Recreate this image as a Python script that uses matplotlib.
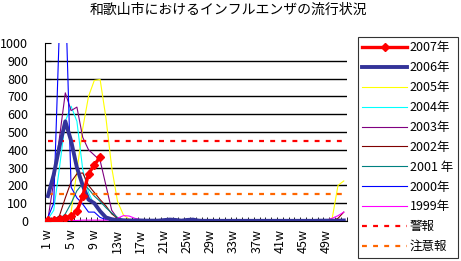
import numpy as np
import matplotlib
matplotlib.use("Agg")
import matplotlib.pyplot as plt

plt.rcParams['font.family'] = ['Noto Sans CJK JP', 'DejaVu Sans']

title = "和歌山市におけるインフルエンザの流行状況"
weeks = list(range(1, 53))
week_labels = ["%d w" % w if w < 10 else "%dw" % w for w in weeks]
week_labels[0] = "1 w"

y2007 = [3, 6, 12, 18, 28, 55, 140, 265, 315, 360]
y2006 = [140, 260, 420, 560, 450, 300, 200, 120, 100, 55, 20, 10, 5, 4, 3, 3,
         3, 2, 2, 2, 5, 8, 6, 2, 6, 8, 2, 1, 1, 1, 1, 1, 1, 1, 1, 1,
         1, 1, 1, 1, 1, 1, 1, 1, 1, 1, 1, 2, 2, 2, 2, 3]
y2005 = [0, 0, 0, 5, 50, 280, 520, 700, 790, 795, 580, 300, 110, 35, 10, 5,
         3, 2, 2, 1, 1, 1, 1, 1, 1, 1, 1, 1, 1, 1, 1, 1, 1, 1, 1, 1,
         1, 1, 1, 1, 1, 1, 1, 1, 1, 1, 1, 2, 3, 15, 200, 225]
y2004 = [10, 60, 300, 560, 645, 560, 290, 160, 90, 45, 15, 5, 3, 2, 2, 1,
         1, 1, 1, 1, 1, 1, 1, 1, 1, 1, 1, 1, 1, 1, 1, 1, 1, 1, 1, 1,
         1, 1, 1, 1, 1, 1, 1, 1, 1, 1, 1, 1, 1, 1, 1, 1]
y2003 = [10, 220, 470, 720, 620, 640, 470, 400, 370, 340, 200, 60, 15, 5, 3, 2,
         2, 1, 1, 1, 1, 1, 1, 1, 1, 1, 1, 1, 1, 1, 1, 1, 1, 1, 1, 1,
         1, 1, 1, 1, 1, 1, 1, 1, 1, 1, 1, 1, 1, 1, 1, 2]
y2002 = [0, 5, 30, 130, 220, 265, 270, 200, 160, 120, 85, 40, 15, 5, 3, 2,
         2, 1, 1, 1, 1, 1, 1, 1, 1, 1, 1, 1, 1, 1, 1, 1, 1, 1, 1, 1,
         1, 1, 1, 1, 1, 1, 1, 1, 1, 1, 1, 1, 0, 0, 15, 50]
y2001 = [0, 2, 10, 40, 100, 170, 210, 180, 140, 110, 75, 45, 20, 8, 3, 2,
         2, 1, 1, 1, 1, 1, 1, 1, 1, 1, 1, 1, 1, 1, 1, 1, 1, 1, 1, 1,
         1, 1, 1, 1, 1, 1, 1, 1, 1, 1, 1, 1, 1, 1, 1, 1]
y2000 = [20, 100, 1100, 1300, 190, 130, 95, 50, 50, 20, 8, 5, 3, 2, 2, 1,
         1, 1, 1, 1, 1, 1, 1, 1, 1, 1, 1, 1, 1, 1, 1, 1, 1, 1, 1, 1,
         1, 1, 1, 1, 1, 1, 1, 1, 1, 3, 5, 5, 3, 3, 3, 3]
y1999 = [0, 0, 0, 0, 2, 3, 5, 5, 5, 5, 5, 8, 15, 30, 28, 15,
         8, 5, 3, 2, 2, 2, 2, 2, 2, 2, 2, 2, 2, 2, 2, 2, 2, 2, 2, 2,
         2, 2, 2, 2, 2, 2, 2, 3, 3, 2, 2, 2, 5, 15, 30, 50]
alarm = 450
caution = 150

dpi = 100
fig = plt.figure(figsize=(461 / dpi, 261 / dpi), dpi=dpi)
ax = fig.add_axes([45 / 461, 40 / 261, (346.7 - 45) / 461, 178 / 261])

thin = 0.8
ax.plot(weeks[:len(y2007)], y2007, color="#FF0000", lw=2.4, marker="D",
        ms=4.5, label="2007年", zorder=10)
ax.plot(weeks, y2006, color="#333399", lw=2.8, label="2006年", zorder=9)
ax.plot(weeks, y2005, color="#FFFF00", lw=thin, label="2005年")
ax.plot(weeks, y2004, color="#00FFFF", lw=thin, label="2004年")
ax.plot(weeks, y2003, color="#800080", lw=thin, label="2003年")
ax.plot(weeks, y2002, color="#800000", lw=thin, label="2002年")
ax.plot(weeks, y2001, color="#008080", lw=thin, label="2001 年")
ax.plot(weeks, y2000, color="#0000FF", lw=thin, label="2000年")
ax.plot(weeks, y1999, color="#FF00FF", lw=thin, label="1999年")
ax.plot(weeks, [alarm] * len(weeks), color="#FF0000", lw=1.6,
        dashes=(2.2, 2.8), label="警報")
ax.plot(weeks, [caution] * len(weeks), color="#FF6600", lw=1.6,
        dashes=(2.2, 2.8), label="注意報")

ax.set_xlim(0.5, 52.5)
ax.set_ylim(0, 1000)
ax.set_yticks(range(0, 1001, 100))
ax.tick_params(axis="y", direction="in", length=4, labelsize=9, pad=12,
               color="black")
ax.set_xticks([w for w in weeks if (w - 1) % 4 == 0])
ax.set_xticklabels([week_labels[w - 1] for w in weeks if (w - 1) % 4 == 0],
                   rotation=90, fontsize=9)
ax.set_xticks(np.arange(0.5, 53, 1), minor=True)
ax.tick_params(axis="x", which="major", length=0, pad=6)
ax.tick_params(axis="x", which="minor", direction="in", length=3,
               color="black")
ax.yaxis.grid(True, color="black", lw=1)
ax.set_axisbelow(True)
for gl in ax.yaxis.get_gridlines()[-1:]:
    gl.set_visible(False)
for s in ["top", "right"]:
    ax.spines[s].set_visible(False)
ax.spines["left"].set_color("black")
ax.spines["bottom"].set_color("black")

fig.text(0.495, 1 - 10 / 261, title, ha="center", va="center", fontsize=10)

leg = fig.legend(loc="upper left", bbox_to_anchor=(358 / 461, 1 - 37 / 261),
                 fontsize=9, handlelength=3.6, labelspacing=0.55,
                 frameon=True, fancybox=False, borderaxespad=0,
                 borderpad=0.35, handletextpad=0.2)
leg.get_frame().set_edgecolor("black")
leg.get_frame().set_linewidth(0.8)

fig.savefig("out.png", dpi=dpi)
